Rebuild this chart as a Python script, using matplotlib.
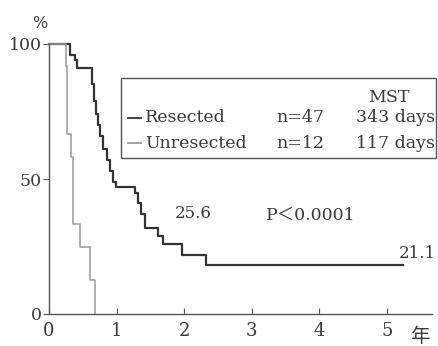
import matplotlib.pyplot as plt
from matplotlib.lines import Line2D
from matplotlib.patches import Rectangle

# Kaplan-Meier curves (years, % surviving)
res_t = [0, 0.31, 0.39, 0.42, 0.64, 0.67, 0.70, 0.72, 0.76, 0.80, 0.86, 0.90,
         0.94, 0.99, 1.27, 1.31, 1.36, 1.42, 1.61, 1.69, 1.97, 2.32, 5.24]
res_s = [100, 96, 94, 91, 85, 79, 74, 70, 66, 61, 57, 53,
         49, 47, 45, 41, 37, 32, 29, 26, 22, 18, 18]

unres_t = [0, 0.25, 0.26, 0.27, 0.33, 0.35, 0.36, 0.46, 0.61, 0.68]
unres_s = [100, 91.7, 83.3, 66.7, 58.3, 50, 33.3, 25, 12.5, 0]

groups = ['Resected', 'Unresected']
n_pts = ['n=47', 'n=12']
mst = ['343 days', '117 days']

x_ticks = [0, 1, 2, 3, 4, 5]
y_ticks = [0, 50, 100]

# the scan's serif is wide, DejaVu Serif is the closest; CJK for 年 and ＜
plt.rcParams['font.family'] = ['DejaVu Serif', 'Noto Sans CJK JP']
ink = '#3a3a3a'

fig = plt.figure(figsize=(4.38, 3.46), dpi=100)
ax = fig.add_axes([49 / 438, 32 / 346, 383 / 438, 270 / 346])

ax.step(res_t, res_s, where='post', color='#333333', lw=1.6, clip_on=False)
ax.step(unres_t, unres_s, where='post', color='#9a9a9a', lw=1.1, clip_on=False)

ax.set_xlim(0, 383 / 67.6)
ax.set_ylim(0, 100)
for s in ['top', 'right']:
    ax.spines[s].set_visible(False)
for s in ['left', 'bottom']:
    ax.spines[s].set_color('#555555')
    ax.spines[s].set_linewidth(1.0)

ax.set_xticks(x_ticks)
ax.set_yticks(y_ticks)
ax.tick_params(axis='x', direction='in', length=4, pad=6, labelsize=13,
               colors='#555555', labelcolor=ink)
ax.tick_params(axis='y', direction='out', length=4, pad=1, labelsize=12.5,
               colors='#555555', labelcolor=ink)

# labels around the axes
fig.text(40 / 438, 1 - 23 / 346, '%', fontsize=11.5, color=ink, ha='center', va='center')
fig.text(420 / 438, 1 - 337 / 346, '年', fontsize=14, color=ink, ha='center', va='center')

# legend box
fig.add_artist(Rectangle((121 / 438, 1 - 158 / 346), 315 / 438, 80 / 346,
                         transform=fig.transFigure, fill=False,
                         edgecolor='#555555', lw=1.0))
fig.text(389 / 438, 1 - 97 / 346, 'MST', fontsize=12.5, color=ink, ha='center', va='center')
row_y = [118, 143]
line_cols = ['#333333', '#9a9a9a']
for i in range(2):
    yy = 1 - row_y[i] / 346
    fig.add_artist(Line2D([128 / 438, 141 / 438], [yy, yy], transform=fig.transFigure,
                          color=line_cols[i], lw=1.3))
    fig.text(145 / 438, yy, groups[i], fontsize=12.5, color=ink, ha='left', va='center')
    fig.text(300 / 438, yy, n_pts[i], fontsize=12.5, color=ink, ha='center', va='center')
    fig.text(435 / 438, yy, mst[i], fontsize=12.5, color=ink, ha='right', va='center')

# annotations
ax.text(2.14, 37.4, '25.6', fontsize=12, color=ink, ha='center', va='center')
ax.text(3.88, 36.7, 'P＜0.0001', fontsize=12.5, color=ink, ha='center', va='center')
fig.text(436 / 438, 1 - 253 / 346, '21.1', fontsize=12, color=ink, ha='right', va='center')

fig.savefig('out.png', dpi=100)
